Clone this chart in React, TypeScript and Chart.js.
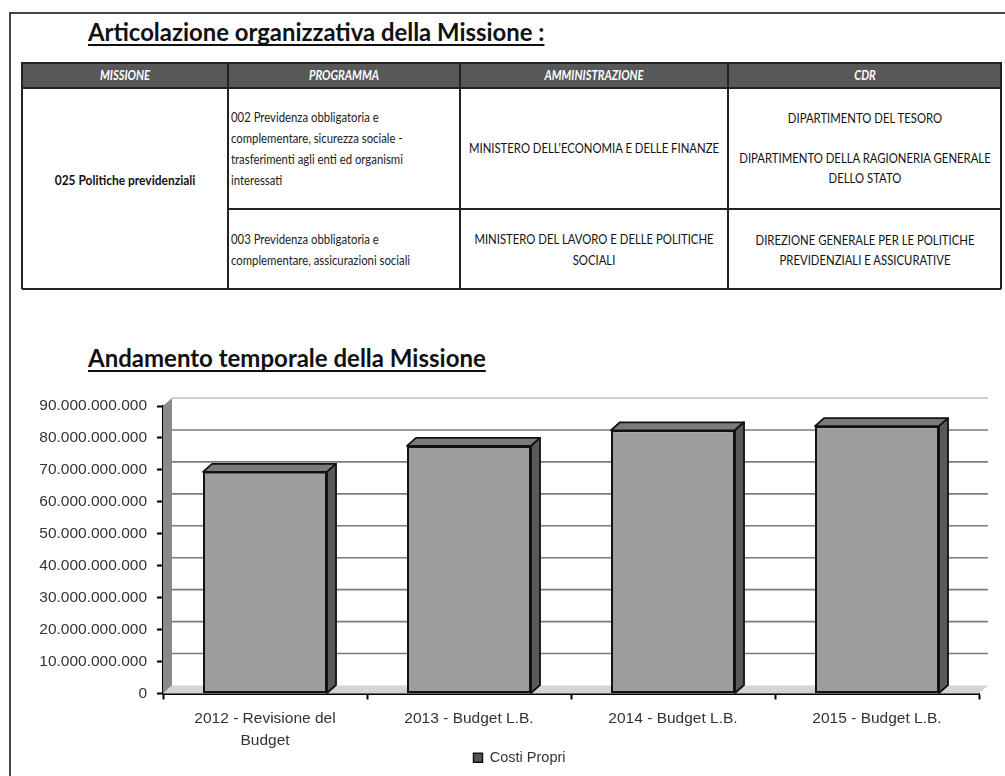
import React, { useEffect, useRef } from "react";
import { Chart, registerables } from "chart.js";

Chart.register(...registerables);

// ---------- DATA ----------
const categories: (string | string[])[] = [
  ["2012 - Revisione del", "Budget"],
  "2013 - Budget L.B.",
  "2014 - Budget L.B.",
  "2015 - Budget L.B.",
];
const seriesName = "Costi Propri";
const costiPropri = [69.4e9, 77.5e9, 82.4e9, 83.7e9];
const yMin = 0;
const yMax = 90e9;
const yStep = 10e9;

const tableTitle = "Articolazione organizzativa della Missione :";
const chartTitle = "Andamento temporale della Missione";
const headers = ["MISSIONE", "PROGRAMMA", "AMMINISTRAZIONE", "CDR"];
const missione = "025 Politiche previdenziali";
const programma1 = [
  "002 Previdenza obbligatoria e",
  "complementare, sicurezza sociale -",
  "trasferimenti agli enti ed organismi",
  "interessati",
];
const programma2 = ["003 Previdenza obbligatoria e", "complementare, assicurazioni sociali"];
const amministrazione1 = ["MINISTERO DELL'ECONOMIA E DELLE FINANZE"];
const amministrazione2 = ["MINISTERO DEL LAVORO E DELLE POLITICHE", "SOCIALI"];
const cdr1a = ["DIPARTIMENTO DEL TESORO"];
const cdr1b = ["DIPARTIMENTO DELLA RAGIONERIA GENERALE", "DELLO STATO"];
const cdr2 = ["DIREZIONE GENERALE PER LE POLITICHE", "PREVIDENZIALI E ASSICURATIVE"];

// ---------- helpers ----------
const fmt = (v: number) => String(Math.round(v)).replace(/\B(?=(\d{3})+(?!\d))/g, ".");

const DX = 9;
const DY = -8;

const bar3d = {
  id: "bar3d",
  afterLayout(chart: any) {
    const lg = chart.legend;
    if (lg) {
      lg.left += 20;
      lg.right += 20;
      lg.top -= 3;
      lg.bottom -= 3;
    }
  },
  beforeDatasetsDraw(chart: any) {
    const { ctx, chartArea, scales } = chart;
    const { left, right, top, bottom } = chartArea;
    const y = scales.y;
    ctx.save();
    // floor
    ctx.fillStyle = "#d4d4d4";
    ctx.beginPath();
    ctx.moveTo(left, bottom);
    ctx.lineTo(right, bottom);
    ctx.lineTo(right + DX, bottom + DY);
    ctx.lineTo(left + DX, bottom + DY);
    ctx.closePath();
    ctx.fill();
    // left wall
    ctx.fillStyle = "#8a8a8a";
    ctx.beginPath();
    ctx.moveTo(left, bottom);
    ctx.lineTo(left, top);
    ctx.lineTo(left + DX, top + DY);
    ctx.lineTo(left + DX, bottom + DY);
    ctx.closePath();
    ctx.fill();
    // back-wall gridlines
    y.ticks.forEach((t: any) => {
      if (t.value === yMin) return;
      const py = y.getPixelForValue(t.value) + DY;
      ctx.strokeStyle = t.value === yMax ? "#a0a0a0" : "#7c7c7c";
      ctx.lineWidth = t.value === yMax ? 1 : 1.6;
      ctx.beginPath();
      ctx.moveTo(left + DX, py);
      ctx.lineTo(right + DX, py);
      ctx.stroke();
    });
    ctx.restore();
  },
  afterDatasetsDraw(chart: any) {
    const { ctx } = chart;
    const meta = chart.getDatasetMeta(0);
    ctx.save();
    ctx.lineWidth = 1.8;
    ctx.strokeStyle = "#111";
    ctx.lineJoin = "round";
    meta.data.forEach((bar: any) => {
      const { x, y, base, width } = bar.getProps(["x", "y", "base", "width"], true);
      const l = x - width / 2;
      const r = x + width / 2;
      // top face
      ctx.fillStyle = "#7a7a7a";
      ctx.beginPath();
      ctx.moveTo(l, y);
      ctx.lineTo(l + DX, y + DY);
      ctx.lineTo(r + DX, y + DY);
      ctx.lineTo(r, y);
      ctx.closePath();
      ctx.fill();
      ctx.stroke();
      // side face
      ctx.fillStyle = "#595959";
      ctx.beginPath();
      ctx.moveTo(r, y);
      ctx.lineTo(r + DX, y + DY);
      ctx.lineTo(r + DX, base + DY);
      ctx.lineTo(r, base);
      ctx.closePath();
      ctx.fill();
      ctx.stroke();
    });
    ctx.restore();
  },
};

const axisFont = { family: "'Liberation Sans', Arial, sans-serif", size: 15.5 };

function BarChart() {
  const ref = useRef<HTMLCanvasElement | null>(null);
  useEffect(() => {
    if (!ref.current) return;
    const chart = new Chart(ref.current, {
      type: "bar",
      data: {
        labels: categories as any,
        datasets: [
          {
            label: seriesName,
            data: costiPropri,
            backgroundColor: "#9d9d9d",
            borderColor: "#111",
            borderWidth: 2,
            borderSkipped: false,
            barPercentage: 0.608,
            categoryPercentage: 1,
          },
        ],
      },
      options: {
        responsive: false,
        animation: false,
        devicePixelRatio: 1,
        layout: { padding: { top: 21, right: 21, left: 0, bottom: 0 } },
        plugins: {
          tooltip: { enabled: false },
          legend: {
            position: "bottom",
            labels: {
              font: { ...axisFont, size: 14.5 },
              color: "#333",
              boxWidth: 9,
              boxHeight: 9,
              padding: 0,
              generateLabels: () => [
                {
                  text: seriesName,
                  fillStyle: "#555",
                  strokeStyle: "#111",
                  lineWidth: 1.5,
                  hidden: false,
                  datasetIndex: 0,
                  fontColor: "#333",
                } as any,
              ],
            },
          },
        },
        scales: {
          x: {
            grid: {
              drawOnChartArea: false,
              offset: true,
              tickLength: 6,
              tickColor: "#000",
              tickWidth: 2,
            },
            border: { display: true, color: "#000", width: 2 },
            ticks: {
              font: { ...axisFont, lineHeight: 1.45 },
              color: "#333",
              padding: 8,
              maxRotation: 0,
              autoSkip: false,
            },
            afterFit: (s: any) => {
              s.height = 60;
            },
          },
          y: {
            min: yMin,
            max: yMax,
            grid: {
              drawOnChartArea: false,
              tickLength: 6,
              tickColor: "#000",
              tickWidth: 2,
            },
            border: { display: true, color: "#000", width: 2 },
            ticks: {
              stepSize: yStep,
              font: axisFont,
              color: "#333",
              padding: 10,
              callback: (v: any) => fmt(Number(v)),
            },
            afterFit: (s: any) => {
              s.width = 143;
            },
          },
        },
      },
      plugins: [bar3d],
    });
    return () => chart.destroy();
  }, []);
  return (
    <canvas
      ref={ref}
      width={980}
      height={393}
      style={{ position: "absolute", left: 20, top: 385, width: 980, height: 393 }}
    />
  );
}

type TP = {
  x: number;
  y: number;
  children: React.ReactNode;
  align?: "left" | "center";
  size?: number;
  weight?: number;
  italic?: boolean;
  color?: string;
  sx?: number;
  underline?: boolean;
};

function Txt({ x, y, children, align = "left", size = 12, weight = 400, italic = false, color = "#222", sx = 1, underline = false }: TP) {
  const tx = align === "center" ? "-50%" : "0";
  return (
    <div
      style={{
        position: "absolute",
        left: x,
        top: y,
        transform: `translate(${tx}, -50%) scaleX(${sx})`,
        transformOrigin: align === "center" ? "center" : "left center",
        whiteSpace: "nowrap",
        fontFamily: "Lato, 'Open Sans', sans-serif",
        fontSize: size,
        fontWeight: weight,
        fontStyle: italic ? "italic" : "normal",
        color,
        lineHeight: 1,
        textDecoration: underline ? "underline" : "none",
        textDecorationThickness: underline ? 2 : undefined,
        textUnderlineOffset: underline ? 3 : undefined,
        textDecorationSkipInk: "none",
      } as any}
    >
      {children}
    </div>
  );
}

function Line({ x, y, w, h, c = "#222" }: { x: number; y: number; w: number; h: number; c?: string }) {
  return <div style={{ position: "absolute", left: x, top: y, width: w, height: h, background: c }} />;
}

const T_LEFT = 22;
const T_RIGHT = 1001;
const T_TOP = 62;
const H_BOTTOM = 88;
const R_MID = 208;
const T_BOTTOM = 289;
const COLS = [22, 228, 460, 728, 1001];

export default function App() {
  const colCenter = (i: number) => (COLS[i] + COLS[i + 1]) / 2;
  const tf = 14;
  const tsx = 0.81;
  return (
    <div style={{ position: "fixed", left: 0, top: 0, width: 1005, height: 776, overflow: "hidden", background: "#fff" }}>
      {/* frame */}
      <Line x={9} y={12} w={1000} h={2} c="#444" />
      <Line x={9} y={12} w={2} h={780} c="#444" />

      <Txt x={88} y={32} size={24} weight={700} color="#111" underline sx={0.995}>
        {tableTitle}
      </Txt>

      {/* table */}
      <Line x={T_LEFT} y={T_TOP} w={T_RIGHT - T_LEFT} h={H_BOTTOM - T_TOP} c="#585858" />
      <Line x={T_LEFT} y={T_TOP} w={T_RIGHT - T_LEFT} h={2} c="#222" />
      <Line x={T_LEFT} y={H_BOTTOM - 1} w={T_RIGHT - T_LEFT} h={2} c="#222" />
      <Line x={T_LEFT} y={T_BOTTOM - 1} w={T_RIGHT - T_LEFT} h={2} c="#222" />
      <Line x={COLS[1]} y={R_MID} w={T_RIGHT - COLS[1]} h={2} c="#222" />
      {COLS.map((cx, i) => (
        <Line key={i} x={cx - 1} y={T_TOP} w={2} h={T_BOTTOM - T_TOP} c="#222" />
      ))}
      {headers.map((h, i) => (
        <Txt key={h} x={colCenter(i)} y={75} align="center" size={14} weight={700} italic color="#fff" sx={0.8}>
          {h}
        </Txt>
      ))}

      <Txt x={colCenter(0)} y={180} align="center" size={tf} weight={700} color="#111" sx={0.855}>
        {missione}
      </Txt>
      {programma1.map((s, i) => (
        <Txt key={s} x={231} y={117 + i * 21} size={tf} color="#222" sx={tsx}>
          {s}
        </Txt>
      ))}
      {programma2.map((s, i) => (
        <Txt key={s} x={231} y={239 + i * 21} size={tf} color="#222" sx={tsx}>
          {s}
        </Txt>
      ))}
      {amministrazione1.map((s, i) => (
        <Txt key={s} x={colCenter(2)} y={148 + i * 21} align="center" size={tf} color="#111" sx={tsx}>
          {s}
        </Txt>
      ))}
      {amministrazione2.map((s, i) => (
        <Txt key={s} x={colCenter(2)} y={239 + i * 21} align="center" size={tf} color="#111" sx={tsx}>
          {s}
        </Txt>
      ))}
      {cdr1a.map((s, i) => (
        <Txt key={s} x={colCenter(3)} y={118 + i * 21} align="center" size={tf} color="#111" sx={tsx}>
          {s}
        </Txt>
      ))}
      {cdr1b.map((s, i) => (
        <Txt key={s} x={colCenter(3)} y={158 + i * 20} align="center" size={tf} color="#111" sx={tsx}>
          {s}
        </Txt>
      ))}
      {cdr2.map((s, i) => (
        <Txt key={s} x={colCenter(3)} y={240 + i * 20} align="center" size={tf} color="#111" sx={tsx}>
          {s}
        </Txt>
      ))}

      <Txt x={88} y={358} size={24} weight={700} color="#111" underline sx={1.0}>
        {chartTitle}
      </Txt>

      <BarChart />
    </div>
  );
}
